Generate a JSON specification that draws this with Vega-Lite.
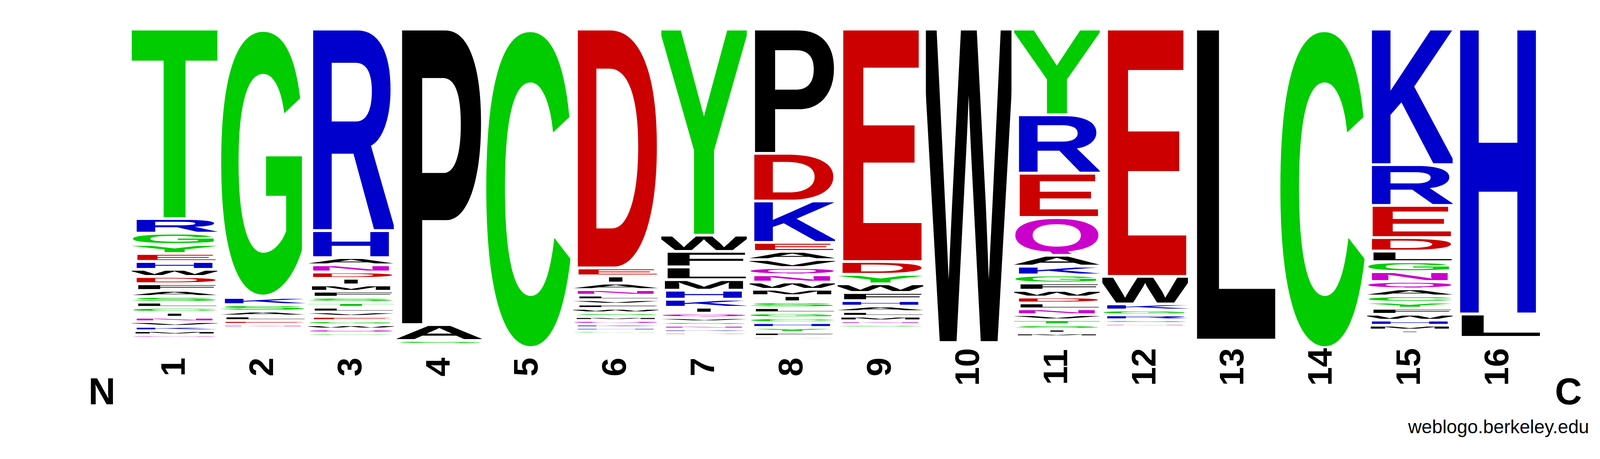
{
  "$schema": "https://vega.github.io/schema/vega-lite/v6.json",
  "background": "#ffffff",
  "autosize": {"type": "none"},
  "padding": {"left": 334, "top": 78, "right": 302, "bottom": 301},
  "width": 3614,
  "height": 796,
  "config": {"view": {"stroke": null}},
  "layer": [
    {
      "data": {
        "values": [
          {"pos": 1, "aa": "T", "p": 0.609}, {"pos": 1, "aa": "R", "p": 0.047}, {"pos": 1, "aa": "G", "p": 0.0364},
          {"pos": 1, "aa": "Y", "p": 0.0291}, {"pos": 1, "aa": "E", "p": 0.0255}, {"pos": 1, "aa": "H", "p": 0.0254},
          {"pos": 1, "aa": "W", "p": 0.0231}, {"pos": 1, "aa": "D", "p": 0.023}, {"pos": 1, "aa": "F", "p": 0.0218},
          {"pos": 1, "aa": "A", "p": 0.0194}, {"pos": 1, "aa": "S", "p": 0.0182}, {"pos": 1, "aa": "L", "p": 0.017},
          {"pos": 1, "aa": "C", "p": 0.0158}, {"pos": 1, "aa": "I", "p": 0.0157}, {"pos": 1, "aa": "N", "p": 0.0146},
          {"pos": 1, "aa": "V", "p": 0.0145}, {"pos": 1, "aa": "K", "p": 0.0144}, {"pos": 1, "aa": "M", "p": 0.0133},
          {"pos": 1, "aa": "Q", "p": 0.0103},
          {"pos": 2, "aa": "G", "p": 0.863}, {"pos": 2, "aa": "K", "p": 0.0231}, {"pos": 2, "aa": "S", "p": 0.0206},
          {"pos": 2, "aa": "A", "p": 0.0158}, {"pos": 2, "aa": "L", "p": 0.0146}, {"pos": 2, "aa": "E", "p": 0.0121},
          {"pos": 2, "aa": "N", "p": 0.0106},
          {"pos": 3, "aa": "R", "p": 0.6477}, {"pos": 3, "aa": "H", "p": 0.087}, {"pos": 3, "aa": "A", "p": 0.0231},
          {"pos": 3, "aa": "N", "p": 0.023}, {"pos": 3, "aa": "D", "p": 0.0208}, {"pos": 3, "aa": "I", "p": 0.0207},
          {"pos": 3, "aa": "M", "p": 0.0205}, {"pos": 3, "aa": "F", "p": 0.0194}, {"pos": 3, "aa": "S", "p": 0.0166},
          {"pos": 3, "aa": "T", "p": 0.0158}, {"pos": 3, "aa": "L", "p": 0.0146}, {"pos": 3, "aa": "V", "p": 0.0145},
          {"pos": 3, "aa": "E", "p": 0.0137}, {"pos": 3, "aa": "G", "p": 0.0134}, {"pos": 3, "aa": "W", "p": 0.0133},
          {"pos": 3, "aa": "Q", "p": 0.0132}, {"pos": 3, "aa": "C", "p": 0.0106},
          {"pos": 4, "aa": "P", "p": 0.95}, {"pos": 4, "aa": "A", "p": 0.051}, {"pos": 4, "aa": "S", "p": 0.0133},
          {"pos": 5, "aa": "C", "p": 1.03},
          {"pos": 6, "aa": "D", "p": 0.768}, {"pos": 6, "aa": "E", "p": 0.0255}, {"pos": 6, "aa": "I", "p": 0.0234},
          {"pos": 6, "aa": "A", "p": 0.0206}, {"pos": 6, "aa": "N", "p": 0.0178}, {"pos": 6, "aa": "L", "p": 0.0146},
          {"pos": 6, "aa": "V", "p": 0.0145}, {"pos": 6, "aa": "F", "p": 0.0137}, {"pos": 6, "aa": "W", "p": 0.0136},
          {"pos": 6, "aa": "S", "p": 0.0125}, {"pos": 6, "aa": "M", "p": 0.0124}, {"pos": 6, "aa": "Q", "p": 0.0123},
          {"pos": 6, "aa": "K", "p": 0.0106}, {"pos": 6, "aa": "H", "p": 0.0105}, {"pos": 6, "aa": "G", "p": 0.01},
          {"pos": 7, "aa": "Y", "p": 0.6626}, {"pos": 7, "aa": "W", "p": 0.0522}, {"pos": 7, "aa": "F", "p": 0.0498},
          {"pos": 7, "aa": "L", "p": 0.0409}, {"pos": 7, "aa": "M", "p": 0.034}, {"pos": 7, "aa": "H", "p": 0.0291},
          {"pos": 7, "aa": "K", "p": 0.0259}, {"pos": 7, "aa": "I", "p": 0.0186}, {"pos": 7, "aa": "Q", "p": 0.0146},
          {"pos": 7, "aa": "V", "p": 0.013}, {"pos": 7, "aa": "S", "p": 0.0118}, {"pos": 7, "aa": "N", "p": 0.0117},
          {"pos": 7, "aa": "R", "p": 0.0106}, {"pos": 7, "aa": "D", "p": 0.0097},
          {"pos": 8, "aa": "P", "p": 0.3993}, {"pos": 8, "aa": "D", "p": 0.1536}, {"pos": 8, "aa": "K", "p": 0.1328},
          {"pos": 8, "aa": "E", "p": 0.0288}, {"pos": 8, "aa": "A", "p": 0.0267}, {"pos": 8, "aa": "V", "p": 0.0255},
          {"pos": 8, "aa": "Q", "p": 0.0234}, {"pos": 8, "aa": "N", "p": 0.0233}, {"pos": 8, "aa": "W", "p": 0.0232},
          {"pos": 8, "aa": "M", "p": 0.0206}, {"pos": 8, "aa": "I", "p": 0.0198}, {"pos": 8, "aa": "S", "p": 0.0186},
          {"pos": 8, "aa": "L", "p": 0.0166}, {"pos": 8, "aa": "G", "p": 0.0158}, {"pos": 8, "aa": "C", "p": 0.0157},
          {"pos": 8, "aa": "H", "p": 0.0156}, {"pos": 8, "aa": "Y", "p": 0.0155}, {"pos": 8, "aa": "F", "p": 0.0133},
          {"pos": 8, "aa": "R", "p": 0.0097},
          {"pos": 9, "aa": "E", "p": 0.7476}, {"pos": 9, "aa": "D", "p": 0.0409}, {"pos": 9, "aa": "Y", "p": 0.0307},
          {"pos": 9, "aa": "W", "p": 0.0279}, {"pos": 9, "aa": "F", "p": 0.0259}, {"pos": 9, "aa": "H", "p": 0.0178},
          {"pos": 9, "aa": "A", "p": 0.0174}, {"pos": 9, "aa": "L", "p": 0.0149}, {"pos": 9, "aa": "M", "p": 0.0148},
          {"pos": 9, "aa": "N", "p": 0.0113}, {"pos": 9, "aa": "S", "p": 0.0112},
          {"pos": 10, "aa": "W", "p": 1.008},
          {"pos": 11, "aa": "Y", "p": 0.2755}, {"pos": 11, "aa": "R", "p": 0.1876}, {"pos": 11, "aa": "E", "p": 0.1426},
          {"pos": 11, "aa": "Q", "p": 0.1214}, {"pos": 11, "aa": "A", "p": 0.035}, {"pos": 11, "aa": "K", "p": 0.0286},
          {"pos": 11, "aa": "G", "p": 0.0255}, {"pos": 11, "aa": "F", "p": 0.0233}, {"pos": 11, "aa": "W", "p": 0.0217},
          {"pos": 11, "aa": "D", "p": 0.0191}, {"pos": 11, "aa": "L", "p": 0.019}, {"pos": 11, "aa": "N", "p": 0.0189},
          {"pos": 11, "aa": "V", "p": 0.0165}, {"pos": 11, "aa": "T", "p": 0.0154}, {"pos": 11, "aa": "S", "p": 0.0148},
          {"pos": 11, "aa": "I", "p": 0.0121}, {"pos": 11, "aa": "M", "p": 0.012},
          {"pos": 12, "aa": "E", "p": 0.795}, {"pos": 12, "aa": "W", "p": 0.0886}, {"pos": 12, "aa": "K", "p": 0.0194},
          {"pos": 12, "aa": "G", "p": 0.0158}, {"pos": 12, "aa": "R", "p": 0.0156}, {"pos": 12, "aa": "S", "p": 0.0121},
          {"pos": 12, "aa": "N", "p": 0.0101},
          {"pos": 13, "aa": "L", "p": 1.0},
          {"pos": 14, "aa": "C", "p": 1.03},
          {"pos": 15, "aa": "K", "p": 0.4357}, {"pos": 15, "aa": "R", "p": 0.1313}, {"pos": 15, "aa": "E", "p": 0.1032},
          {"pos": 15, "aa": "D", "p": 0.0437}, {"pos": 15, "aa": "L", "p": 0.034}, {"pos": 15, "aa": "G", "p": 0.0319},
          {"pos": 15, "aa": "N", "p": 0.0316}, {"pos": 15, "aa": "Q", "p": 0.0239}, {"pos": 15, "aa": "A", "p": 0.0227},
          {"pos": 15, "aa": "C", "p": 0.0198}, {"pos": 15, "aa": "Y", "p": 0.0197}, {"pos": 15, "aa": "F", "p": 0.0196},
          {"pos": 15, "aa": "W", "p": 0.0186}, {"pos": 15, "aa": "H", "p": 0.0166}, {"pos": 15, "aa": "M", "p": 0.0154},
          {"pos": 15, "aa": "I", "p": 0.0106},
          {"pos": 16, "aa": "H", "p": 0.916}, {"pos": 16, "aa": "L", "p": 0.075}
        ]
      },
      "transform": [
        {"stack": "p", "groupby": ["pos"], "sort": [{"field": "p", "order": "descending"}], "as": ["y0", "y1"]},
        {"calculate": "indexof('GSTYC', datum.aa) >= 0 ? '00cc00' : indexof('NQ', datum.aa) >= 0 ? 'cc00cc' : indexof('KRH', datum.aa) >= 0 ? '0000cc' : indexof('DE', datum.aa) >= 0 ? 'cc0000' : '000000'", "as": "hex"},
        {"calculate": "indexof('CGOQS', datum.aa) >= 0 ? 702 : 688", "as": "gt"},
        {"calculate": "indexof('CGOS', datum.aa) >= 0 ? 14 : (datum.aa == 'Q' ? 55 : 0)", "as": "gb"},
        {"calculate": "'data:image/svg+xml;utf8,%3Csvg%20xmlns=%27http://www.w3.org/2000/svg%27%20viewBox=%2740%20' + (-datum.gt) + '%20920%20' + (datum.gt + datum.gb) + '%27%20preserveAspectRatio=%27none%27%3E%3Ctext%20y=%270%27%20font-family=%27Liberation%20Sans,Arial,sans-serif%27%20font-weight=%27bold%27%20font-size=%271000%27%20fill=%27%23' + datum.hex + '%27' + (datum.aa == 'I' ? '%20x=%27500%27%20text-anchor=%27middle%27' : '%20x=%270%27%20textLength=%271000%27%20lengthAdjust=%27spacingAndGlyphs%27') + '%3E' + datum.aa + '%3C/text%3E%3C/svg%3E'", "as": "glyph"}
      ],
      "mark": {"type": "image", "aspect": false, "yOffset": -6.8},
      "encoding": {
        "x": {
          "field": "pos",
          "type": "ordinal",
          "title": null,
          "scale": {"paddingInner": 0.03, "paddingOuter": 0.015},
          "axis": {
            "domain": false,
            "ticks": false,
            "tickSize": 0,
            "grid": false,
            "labelAngle": 270,
            "labelAlign": "center",
            "labelBaseline": "middle",
            "labelFont": "Liberation Sans",
            "labelFontWeight": "bold",
            "labelFontSize": 87,
            "labelPadding": 65,
            "labelColor": "#000000",
            "labelOverlap": false
          }
        },
        "y": {"field": "y1", "type": "quantitative", "scale": {"domain": [0, 1], "reverse": true}, "axis": null},
        "y2": {"field": "y0"},
        "url": {"field": "glyph", "type": "nominal"},
        "tooltip": [{"field": "pos", "type": "ordinal"}, {"field": "aa", "type": "nominal"}, {"field": "p", "type": "quantitative"}]
      }
    },
    {
      "data": {"values": [{"pos": 1, "label": "N"}]},
      "mark": {"type": "text", "dx": -186, "align": "center", "baseline": "alphabetic", "font": "Liberation Sans", "fontWeight": "bold", "fontSize": 96, "color": "#000000"},
      "encoding": {
        "x": {"field": "pos", "type": "ordinal", "title": null},
        "y": {"datum": 1.202, "type": "quantitative", "scale": {"domain": [0, 1], "reverse": true}, "axis": null},
        "text": {"field": "label"}
      }
    },
    {
      "data": {"values": [{"pos": 16, "label": "C"}]},
      "mark": {"type": "text", "dx": 180, "align": "center", "baseline": "alphabetic", "font": "Liberation Sans", "fontWeight": "bold", "fontSize": 96, "color": "#000000"},
      "encoding": {
        "x": {"field": "pos", "type": "ordinal", "title": null},
        "y": {"datum": 1.202, "type": "quantitative", "scale": {"domain": [0, 1], "reverse": true}, "axis": null},
        "text": {"field": "label"}
      }
    },
    {
      "data": {"values": [{"pos": 16, "label": "weblogo.berkeley.edu"}]},
      "mark": {"type": "text", "dx": 233, "align": "right", "baseline": "alphabetic", "font": "Liberation Sans", "fontSize": 48, "color": "#000000"},
      "encoding": {
        "x": {"field": "pos", "type": "ordinal", "title": null},
        "y": {"datum": 1.295, "type": "quantitative", "scale": {"domain": [0, 1], "reverse": true}, "axis": null},
        "text": {"field": "label"}
      }
    }
  ]
}
